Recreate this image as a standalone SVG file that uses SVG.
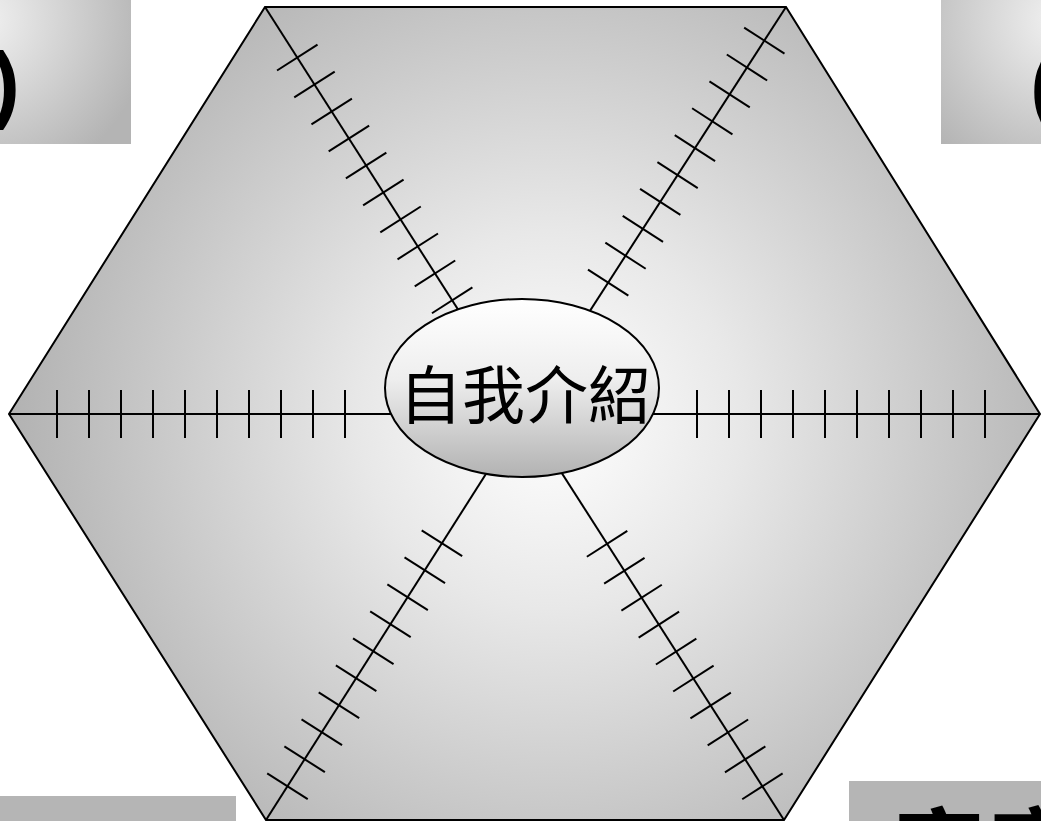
<svg xmlns="http://www.w3.org/2000/svg" xmlns:xlink="http://www.w3.org/1999/xlink" width="1041" height="821" viewBox="0 0 1041 821">
<defs>
<radialGradient id="hexg" gradientUnits="userSpaceOnUse" cx="550" cy="420" r="540">
<stop offset="0" stop-color="#ffffff"/>
<stop offset="0.35" stop-color="#e8e8e8"/>
<stop offset="1" stop-color="#b2b2b2"/>
</radialGradient>
<linearGradient id="ellg" x1="0" y1="0" x2="0" y2="1">
<stop offset="0" stop-color="#ffffff"/>
<stop offset="0.45" stop-color="#eeeeee"/>
<stop offset="1" stop-color="#b2b2b2"/>
</linearGradient>
<radialGradient id="tlg" gradientUnits="userSpaceOnUse" cx="-20" cy="20" r="170">
<stop offset="0" stop-color="#f2f2f2"/>
<stop offset="1" stop-color="#b4b4b4"/>
</radialGradient>
<radialGradient id="trg" gradientUnits="userSpaceOnUse" cx="1061" cy="20" r="170">
<stop offset="0" stop-color="#f2f2f2"/>
<stop offset="1" stop-color="#b4b4b4"/>
</radialGradient>
<line id="tk" x1="0" y1="-24" x2="0" y2="24"/>
</defs>
<style>
.ln{stroke:#000;stroke-width:2;fill:none}
.ttl{font-family:"Liberation Sans","Noto Sans CJK TC",sans-serif;font-weight:bold;fill:#000}
.cj{font-family:"Noto Sans CJK TC","Noto Sans CJK SC",sans-serif;fill:#000}
</style>
<g id="box-tl">
<rect x="0" y="0" width="131" height="144" fill="url(#tlg)"/>
<text class="ttl" x="20" y="112" font-size="86" text-anchor="end">)</text>
</g>
<g id="box-tr">
<rect x="941" y="0" width="100" height="144" fill="url(#trg)"/>
<text class="ttl" x="1030" y="114" font-size="86">(</text>
</g>
<g id="box-bl">
<rect x="0" y="796" width="236" height="25" fill="#b5b5b5"/>
</g>
<g id="box-br">
<rect x="849" y="781" width="192" height="40" fill="#b5b5b5"/>
<text class="cj" x="893" y="885" font-size="92" font-weight="bold">家庭</text>
</g>
<g id="hexagon">
<polygon points="9,414 265,7 786,7 1040,414 784,820 266,820" fill="url(#hexg)" stroke="#000" stroke-width="2"/>
</g>
<g id="connectors" class="ln">
<g transform="translate(9,414)">
<line x1="0" y1="0" x2="515" y2="0"/>
<use xlink:href="#tk" x="48"/><use xlink:href="#tk" x="80"/><use xlink:href="#tk" x="112"/><use xlink:href="#tk" x="144"/><use xlink:href="#tk" x="176"/><use xlink:href="#tk" x="208"/><use xlink:href="#tk" x="240"/><use xlink:href="#tk" x="272"/><use xlink:href="#tk" x="304"/><use xlink:href="#tk" x="336"/>
</g>
<g transform="translate(1040,414) rotate(180)">
<line x1="0" y1="0" x2="516" y2="0"/>
<use xlink:href="#tk" x="55"/><use xlink:href="#tk" x="87"/><use xlink:href="#tk" x="119"/><use xlink:href="#tk" x="151"/><use xlink:href="#tk" x="183"/><use xlink:href="#tk" x="215"/><use xlink:href="#tk" x="247"/><use xlink:href="#tk" x="279"/><use xlink:href="#tk" x="311"/><use xlink:href="#tk" x="343"/>
</g>
<g transform="translate(265,7) rotate(57.46)">
<line x1="0" y1="0" x2="482" y2="0"/>
<use xlink:href="#tk" x="60"/><use xlink:href="#tk" x="92"/><use xlink:href="#tk" x="124"/><use xlink:href="#tk" x="156"/><use xlink:href="#tk" x="188"/><use xlink:href="#tk" x="220"/><use xlink:href="#tk" x="252"/><use xlink:href="#tk" x="284"/><use xlink:href="#tk" x="316"/><use xlink:href="#tk" x="348"/>
</g>
<g transform="translate(786,7) rotate(122.83)">
<line x1="0" y1="0" x2="483" y2="0"/>
<use xlink:href="#tk" x="40"/><use xlink:href="#tk" x="72"/><use xlink:href="#tk" x="104"/><use xlink:href="#tk" x="136"/><use xlink:href="#tk" x="168"/><use xlink:href="#tk" x="200"/><use xlink:href="#tk" x="232"/><use xlink:href="#tk" x="264"/><use xlink:href="#tk" x="296"/><use xlink:href="#tk" x="328"/>
</g>
<g transform="translate(266,820) rotate(-57.56)">
<line x1="0" y1="0" x2="482" y2="0"/>
<use xlink:href="#tk" x="40"/><use xlink:href="#tk" x="72"/><use xlink:href="#tk" x="104"/><use xlink:href="#tk" x="136"/><use xlink:href="#tk" x="168"/><use xlink:href="#tk" x="200"/><use xlink:href="#tk" x="232"/><use xlink:href="#tk" x="264"/><use xlink:href="#tk" x="296"/><use xlink:href="#tk" x="328"/>
</g>
<g transform="translate(784,820) rotate(-122.64)">
<line x1="0" y1="0" x2="482" y2="0"/>
<use xlink:href="#tk" x="40"/><use xlink:href="#tk" x="72"/><use xlink:href="#tk" x="104"/><use xlink:href="#tk" x="136"/><use xlink:href="#tk" x="168"/><use xlink:href="#tk" x="200"/><use xlink:href="#tk" x="232"/><use xlink:href="#tk" x="264"/><use xlink:href="#tk" x="296"/><use xlink:href="#tk" x="328"/>
</g>
</g>
<g id="center-node">
<ellipse cx="522" cy="388" rx="137" ry="89" fill="url(#ellg)" stroke="#000" stroke-width="2"/>
<text class="cj" x="525" y="418" font-size="63" text-anchor="middle">自我介紹</text>
</g>
</svg>
